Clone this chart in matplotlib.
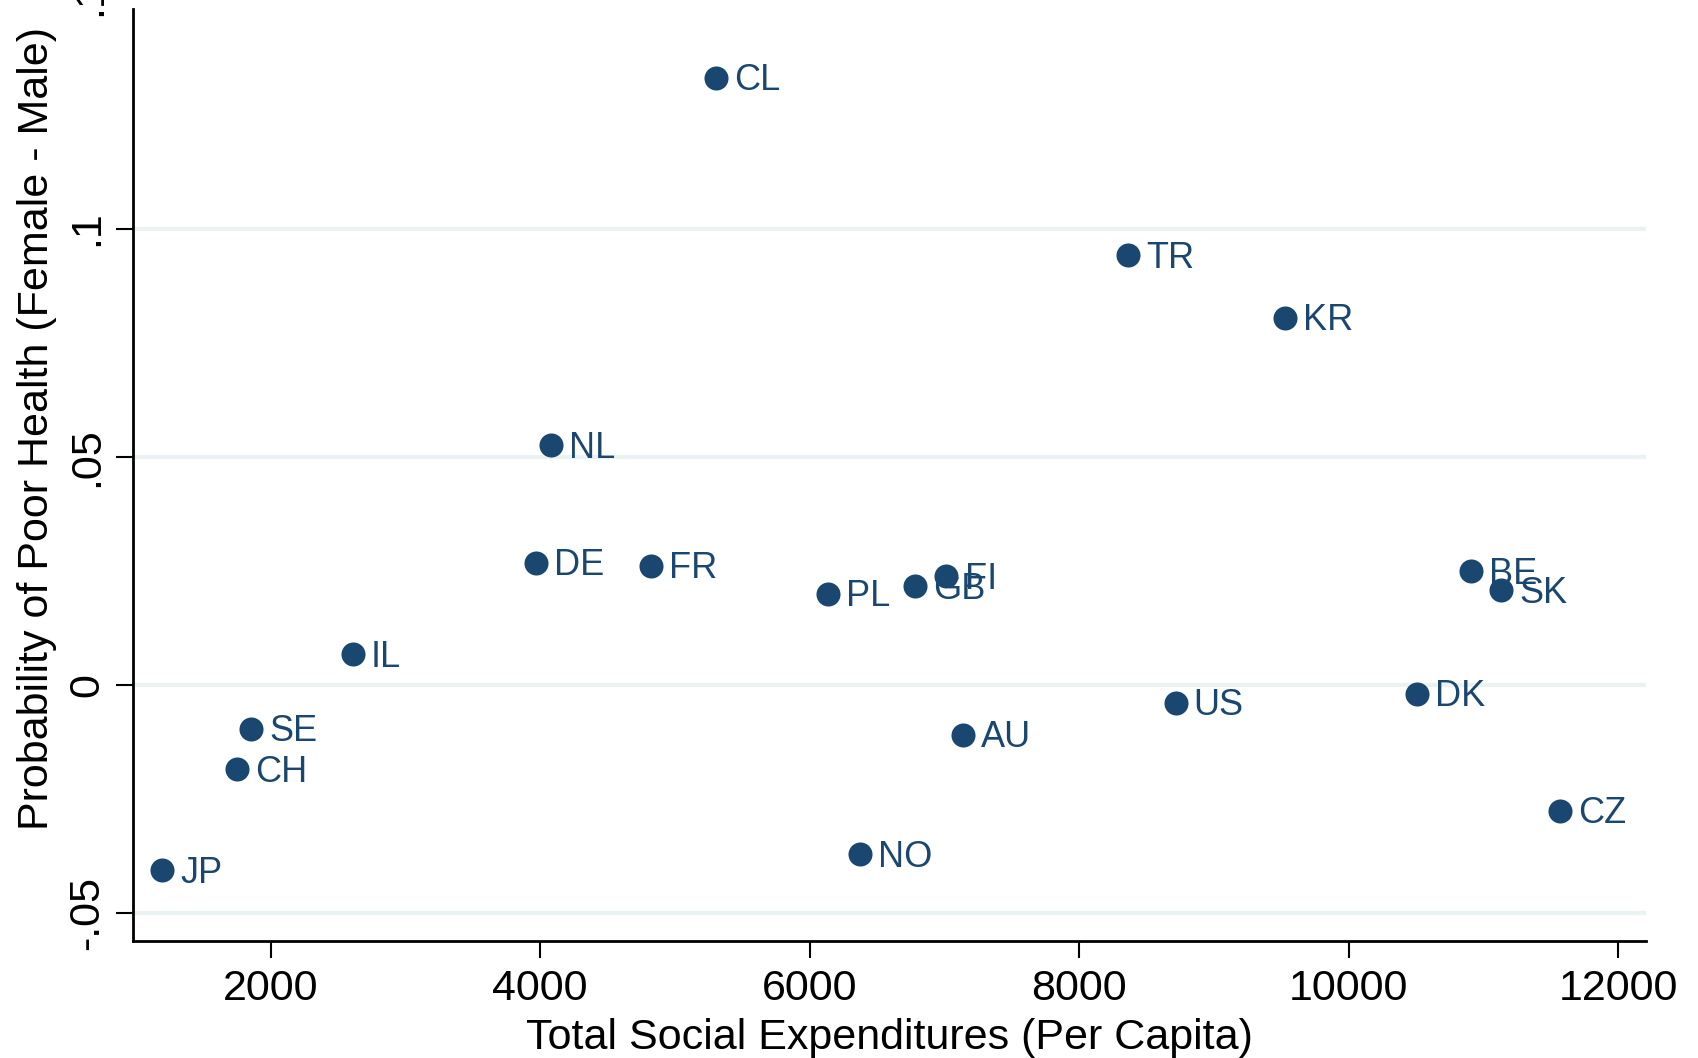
import matplotlib
matplotlib.use("Agg")
import matplotlib.pyplot as plt
import matplotlib.transforms as mtransforms

plt.rcParams['font.family'] = ['Liberation Sans', 'DejaVu Sans']

# Data
countries = ['CL', 'TR', 'KR', 'NL', 'DE', 'FR', 'PL', 'GB', 'FI', 'BE',
             'SK', 'IL', 'SE', 'CH', 'JP', 'NO', 'AU', 'US', 'DK', 'CZ']
social_exp = [5307, 8364, 9528, 4079, 3966, 4825, 6133, 6783, 7016, 10909,
              11133, 2610, 1856, 1751, 1197, 6374, 7136, 8717, 10507, 11567]
poor_health_gap = [0.1330, 0.0941, 0.0805, 0.0525, 0.0268, 0.0261, 0.0200, 0.0216, 0.0238, 0.0249,
                   0.0207, 0.0067, -0.0097, -0.0185, -0.0406, -0.0371, -0.0109, -0.0040, -0.0019, -0.0276]

xticks = [2000, 4000, 6000, 8000, 10000, 12000]
yticks = [-0.05, 0, 0.05, 0.1]
ytick_labels = ['-.05', '0', '.05', '.1']

navy = '#1a476f'
grid_col = '#eaf2f3'

fig = plt.figure(figsize=(16.98, 10.58), dpi=100)
ax = fig.add_axes([0.0783, 0.1106, 0.8911, 0.8809])

for y in yticks:
    ax.axhline(y, color=grid_col, lw=3, zorder=0)

ax.scatter(social_exp, poor_health_gap, s=300, color=navy, zorder=3, linewidths=0)
for name, x, y in zip(countries, social_exp, poor_health_gap):
    ax.annotate(name, (x, y), xytext=(13, -2), textcoords='offset points',
                ha='left', va='center', fontsize=26, color=navy, zorder=4)

ax.set_xlim(978, 12208)
ax.set_ylim(-0.0561, 0.1481)
ax.set_xticks(xticks)
ax.set_xticklabels([str(v) for v in xticks])
ax.set_yticks(yticks)
ax.set_yticklabels(ytick_labels, rotation=90, va='center')

ax.tick_params(axis='both', length=12.5, width=1.5, labelsize=31, color='black')
ax.tick_params(axis='x', pad=8)
ax.tick_params(axis='y', pad=6)

for side in ['top', 'right']:
    ax.spines[side].set_visible(False)
for side in ['left', 'bottom']:
    ax.spines[side].set_linewidth(2)

# top tick label sits just outside the plot region (cut off in the original)
trans = mtransforms.blended_transform_factory(ax.transAxes, ax.transData)
ax.annotate('.15', (-0.0284, 0.15), xycoords=trans, xytext=(0, 10), textcoords='offset points',
            rotation=90, ha='center', va='center', fontsize=31, annotation_clip=False)

ax.set_xlabel('Total Social Expenditures (Per Capita)', fontsize=31)
ax.set_ylabel('Probability of Poor Health (Female - Male)', fontsize=31)
ax.xaxis.set_label_coords(0.5, -0.083)
ax.yaxis.set_label_coords(-0.0499, 0.55)

fig.savefig('out.png', dpi=100)
